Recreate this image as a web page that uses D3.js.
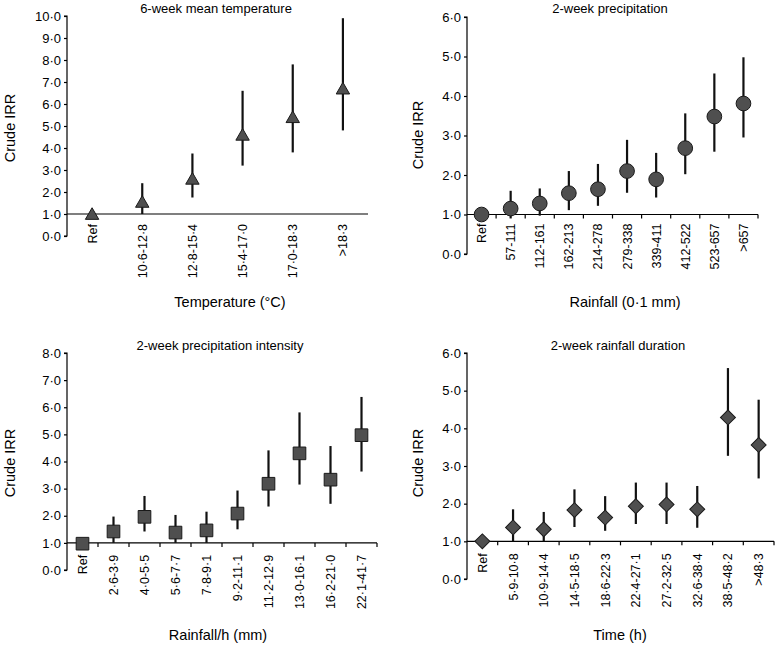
<!DOCTYPE html>
<html>
<head>
<meta charset="utf-8">
<script src="https://cdn.jsdelivr.net/npm/d3@7"></script>
<style>
  body { margin: 0; background: #fff; }
  svg { display: block; }
</style>
</head>
<body>
<div id="chart"></div>
<script>
// --- data ---
var tempCats = ["Ref", "10·6-12·8", "12·8-15·4", "15·4-17·0", "17·0-18·3", ">18·3"];
var tempEst  = [1.0, 1.55, 2.6, 4.6, 5.4, 6.7];
var tempLow  = [1.0, 1.0, 1.75, 3.2, 3.8, 4.8];
var tempHigh = [1.0, 2.4, 3.75, 6.6, 7.8, 9.9];

var precCats = ["Ref", "57-111", "112-161", "162-213", "214-278", "279-338", "339-411", "412-522", "523-657", ">657"];
var precEst  = [1.0, 1.15, 1.28, 1.54, 1.64, 2.1, 1.89, 2.68, 3.48, 3.81];
var precLow  = [1.0, 0.9, 0.97, 1.11, 1.22, 1.55, 1.43, 2.02, 2.59, 2.95];
var precHigh = [1.0, 1.6, 1.66, 2.1, 2.28, 2.89, 2.56, 3.56, 4.57, 4.98];

var intCats = ["Ref", "2·6-3·9", "4·0-5·5", "5·6-7·7", "7·8-9·1", "9·2-11·1", "11·2-12·9", "13·0-16·1", "16·2-21·0", "22·1-41·7"];
var intEst  = [0.97, 1.42, 1.96, 1.38, 1.46, 2.08, 3.18, 4.3, 3.33, 4.97];
var intLow  = [0.97, 1.0, 1.42, 1.0, 1.0, 1.5, 2.34, 3.15, 2.44, 3.63];
var intHigh = [0.97, 1.97, 2.73, 2.03, 2.15, 2.93, 4.41, 5.81, 4.57, 6.38];

var durCats = ["Ref", "5·9-10·8", "10·9-14·4", "14·5-18·5", "18·6-22·3", "22·4-27·1", "27·2-32·5", "32·6-38·4", "38·5-48·2", ">48·3"];
var durEst  = [1.0, 1.37, 1.32, 1.83, 1.63, 1.93, 1.98, 1.85, 4.29, 3.56];
var durLow  = [1.0, 1.0, 1.0, 1.38, 1.28, 1.46, 1.46, 1.36, 3.27, 2.67];
var durHigh = [1.0, 1.85, 1.78, 2.38, 2.2, 2.56, 2.56, 2.47, 5.6, 4.76];

var fontFamily = "'Liberation Sans', Arial, Helvetica, sans-serif";
var markerFill = "#4f4f4f";
var markerStroke = "#1a1a1a";

var width = 775, height = 646;

var svg = d3.select("#chart").append("svg")
  .attr("width", width)
  .attr("height", height)
  .style("font-family", fontFamily);

var fmt = function(v){ return d3.format(".1f")(v).replace(".", "·"); };

var panels = [
  { title: "6-week mean temperature", xTitle: "Temperature (°C)", cats: tempCats, est: tempEst, low: tempLow, high: tempHigh,
    yMax: 10, shape: "triangle", x0: 67, x1: 368, yTop: 16, yBot: 236, lblOff: 10, refTicks: false,
    titleX: 216, titleY: 13, xTitleX: 230, xTitleY: 307, yTitleX: 15, yTitleY: 128 },
  { title: "2-week precipitation", xTitle: "Rainfall (0·1 mm)", cats: precCats, est: precEst, low: precLow, high: precHigh,
    yMax: 6, shape: "circle", x0: 467, x1: 758, yTop: 17, yBot: 254, lblOff: 9, refTicks: true,
    titleX: 610, titleY: 13, xTitleX: 625, xTitleY: 307, yTitleX: 423, yTitleY: 135 },
  { title: "2-week precipitation intensity", xTitle: "Rainfall/h (mm)", cats: intCats, est: intEst, low: intLow, high: intHigh,
    yMax: 8, shape: "square", x0: 67, x1: 377, yTop: 353, yBot: 570, lblOff: 12, refTicks: true,
    titleX: 220, titleY: 350, xTitleX: 218, xTitleY: 640, yTitleX: 15, yTitleY: 463 },
  { title: "2-week rainfall duration", xTitle: "Time (h)", cats: durCats, est: durEst, low: durLow, high: durHigh,
    yMax: 6, shape: "diamond", x0: 467, x1: 774, yTop: 353, yBot: 579, lblOff: 12, refTicks: true,
    titleX: 618, titleY: 350, xTitleX: 620, xTitleY: 640, yTitleX: 423, yTitleY: 463 }
];

var symbols = {
  triangle: d3.symbol().type(d3.symbolTriangle).size(78),
  circle: d3.symbol().type(d3.symbolCircle).size(170),
  square: d3.symbol().type(d3.symbolSquare).size(160),
  diamond: d3.symbol().type(d3.symbolSquare).size(112)
};

panels.forEach(function(p){
  var g = svg.append("g");

  var y = d3.scaleLinear().domain([0, p.yMax]).range([p.yBot, p.yTop]);
  var x = d3.scaleBand().domain(p.cats).range([p.x0, p.x1]).padding(0);

  // y axis
  var yAxis = g.append("g")
    .attr("transform", "translate(" + p.x0 + ",0)")
    .call(d3.axisLeft(y).ticks(p.yMax).tickSize(3).tickPadding(3).tickFormat(fmt));
  yAxis.select(".domain").attr("stroke", "#000").attr("stroke-width", 1.2).attr("d", "M-3," + p.yTop + "H0V" + p.yBot + "H-3");
  yAxis.selectAll(".tick line").attr("stroke", "#000").attr("stroke-width", 1.2);
  yAxis.selectAll(".tick text").attr("fill", "#000").style("font-size", "13px").style("font-family", fontFamily);

  // reference line at IRR = 1
  var y1 = y(1);
  g.append("line")
    .attr("x1", p.x0).attr("x2", p.x1)
    .attr("y1", y1).attr("y2", y1)
    .attr("stroke", "#000").attr("stroke-width", 1.2);

  if (p.refTicks) {
    g.selectAll("line.cut")
      .data(p.cats)
      .enter().append("line")
      .attr("class", "cut")
      .attr("x1", function(d){ return x(d) + x.bandwidth(); })
      .attr("x2", function(d){ return x(d) + x.bandwidth(); })
      .attr("y1", y1).attr("y2", y1 + 4)
      .attr("stroke", "#000").attr("stroke-width", 1.2);
  }

  // category labels, rotated
  g.selectAll("text.cat")
    .data(p.cats)
    .enter().append("text")
    .attr("class", "cat")
    .attr("transform", function(d){
      return "translate(" + (x(d) + x.bandwidth() / 2 + 4.5) + "," + (y1 + p.lblOff) + ") rotate(-90)";
    })
    .attr("text-anchor", "end")
    .style("font-size", "12.5px")
    .text(function(d){ return d; });

  var rows = p.cats.map(function(c, i){ return { cat: c, est: p.est[i], low: p.low[i], high: p.high[i] }; });

  // error bars
  g.selectAll("line.ci")
    .data(rows.filter(function(d){ return d.high > d.low; }))
    .enter().append("line")
    .attr("class", "ci")
    .attr("x1", function(d){ return x(d.cat) + x.bandwidth() / 2; })
    .attr("x2", function(d){ return x(d.cat) + x.bandwidth() / 2; })
    .attr("y1", function(d){ return y(d.low); })
    .attr("y2", function(d){ return y(d.high); })
    .attr("stroke", "#111").attr("stroke-width", 2.2);

  // markers
  g.selectAll("path.pt")
    .data(rows)
    .enter().append("path")
    .attr("class", "pt")
    .attr("d", symbols[p.shape])
    .attr("transform", function(d){
      var t = "translate(" + (x(d.cat) + x.bandwidth() / 2) + "," + y(d.est) + ")";
      if (p.shape === "diamond") t += " rotate(45)";
      if (p.shape === "triangle") t += " translate(0,1.5)";
      return t;
    })
    .attr("fill", markerFill)
    .attr("stroke", markerStroke)
    .attr("stroke-width", 1);

  // titles
  g.append("text")
    .attr("x", p.titleX).attr("y", p.titleY)
    .attr("text-anchor", "middle")
    .style("font-size", "13px")
    .text(p.title);

  g.append("text")
    .attr("x", p.xTitleX).attr("y", p.xTitleY)
    .attr("text-anchor", "middle")
    .style("font-size", "14.5px")
    .text(p.xTitle);

  g.append("text")
    .attr("transform", "translate(" + p.yTitleX + "," + p.yTitleY + ") rotate(-90)")
    .attr("text-anchor", "middle")
    .style("font-size", "14.5px")
    .text("Crude IRR");
});
</script>
</body>
</html>
